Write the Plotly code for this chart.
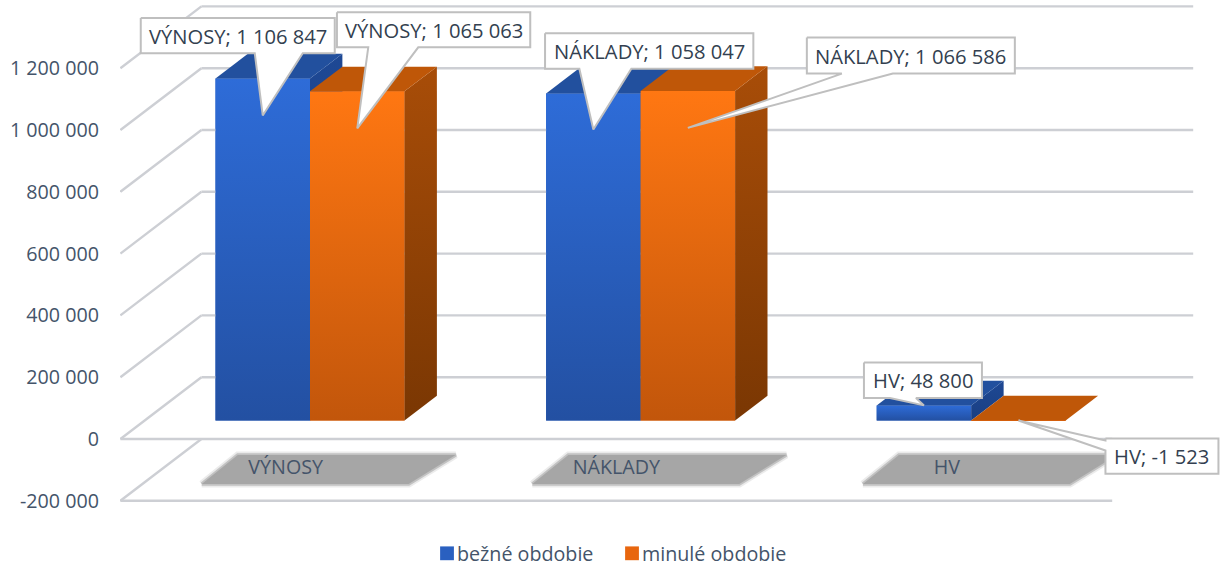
import plotly.graph_objects as go

# ---- data ----
CATEGORIES = ["VÝNOSY", "NÁKLADY", "HV"]
CURRENT = [1106847, 1058047, 48800]
PREVIOUS = [1065063, 1066586, -1523]
SERIES_NAMES = ["bežné obdobie", "minulé obdobie"]
TICK_VALUES = [-200000, 0, 200000, 400000, 600000, 800000, 1000000, 1200000]
TICK_LABELS = ["-200 000", "0", "200 000", "400 000", "600 000", "800 000", "1 000 000", "1 200 000"]

# ---- scale of the drawing ----
W, H = 1223, 570
PLOT_L, PLOT_R, PLOT_T, PLOT_B = 120, 1223, 0, 570
X0_PX, X_UNIT = 285.7, 330.6       # px of category 0 on the front plane, px per category
Y0_PX, Y_UNIT = 439.0, 0.000309    # px of value 0 on the front plane, px per value unit
X_RANGE = [(PLOT_L - X0_PX) / X_UNIT, (PLOT_R - X0_PX) / X_UNIT]
Y_RANGE = [(Y0_PX - PLOT_B) / Y_UNIT, (Y0_PX - PLOT_T) / Y_UNIT]
DEPTH_X, DEPTH_Y = 81 / X_UNIT, 200000   # data offset of the full floor depth
BAR_D0, BAR_D1 = 0.3, 0.7
BAR_W = 94.5 / X_UNIT
FLOOR_X0, FLOOR_X1 = -0.5, 2.5
GRID = "#CDCFD4"
INK = "#44546A"
LABEL_INK = "#333F50"
FONT = "Open Sans"
TEXT_SIZE = 19.7
LABEL_SIZE = 20.2

def dpx(px):
    return px / X_UNIT
def dpy(px):
    return -px / Y_UNIT

# walls and floor gridlines
gx, gy = [], []
for v in TICK_VALUES:
    gx += [FLOOR_X0, FLOOR_X0 + DEPTH_X, None]
    gy += [v, v + DEPTH_Y, None]
    if v >= 0:
        gx += [FLOOR_X0 + DEPTH_X, FLOOR_X1 + DEPTH_X, None]
        gy += [v + DEPTH_Y, v + DEPTH_Y, None]
    if v <= 0:
        gx += [FLOOR_X0, FLOOR_X1, None]
        gy += [v, v, None]
grid_trace = go.Scatter(x=gx, y=gy, mode="lines", line=dict(color=GRID, width=2.4),
                        hoverinfo="skip", showlegend=False)

# real bars (also provide the legend)
STYLE = [
    dict(front=("#2350A2", "#2E6CD8"), top="#22509E", side=("#1A3F82", "#1E4894"), flat="#2A60C0"),
    dict(front=("#C2560B", "#FF7712"), top="#BF5708", side=("#7A3703", "#A84D08"), flat="#E8660E"),
]
bars = []
faces = []
for s, (name, vals) in enumerate(zip(SERIES_NAMES, [CURRENT, PREVIOUS])):
    st = STYLE[s]
    xc = [i + BAR_D0 * DEPTH_X + (s - 0.5) * BAR_W for i in range(len(vals))]
    base = BAR_D0 * DEPTH_Y
    bars.append(go.Bar(x=xc, y=vals, base=[base] * len(vals), width=BAR_W, name=name,
                       marker=dict(color=st["flat"], line=dict(width=0)), hoverinfo="skip"))
    for x, v in zip(xc, vals):
        l, r = x - BAR_W / 2, x + BAR_W / 2
        t = base + max(v, 0)
        b = base + min(v, 0)
        dx = (BAR_D1 - BAR_D0) * DEPTH_X
        dy = (BAR_D1 - BAR_D0) * DEPTH_Y
        # front
        faces.append(go.Scatter(x=[l, r, r, l, l], y=[b, b, t, t, b], mode="lines", line=dict(width=0),
                                fill="toself", hoverinfo="skip", showlegend=False,
                                fillgradient=dict(type="vertical", colorscale=[[0, st["front"][0]], [1, st["front"][1]]])))
        # side
        faces.append(go.Scatter(x=[r, r + dx, r + dx, r, r], y=[b, b + dy, t + dy, t, b], mode="lines", line=dict(width=0),
                                fill="toself", hoverinfo="skip", showlegend=False,
                                fillgradient=dict(type="vertical", colorscale=[[0, st["side"][0]], [1, st["side"][1]]])))
        # top
        faces.append(go.Scatter(x=[l, r, r + dx, l + dx, l], y=[t, t, t + dy, t + dy, t], mode="lines", line=dict(width=0),
                                fill="toself", fillcolor=st["top"], hoverinfo="skip", showlegend=False))

# grey slabs beneath the category names
slabs = []
for i in range(len(CATEGORIES)):
    sx = [i + dpx(o) for o in (-84, -48, 170, 123, -84)]
    sy = [dpy(p) for p in (45, 16, 16, 45, 45)]
    slabs.append(go.Scatter(x=sx, y=sy, mode="lines", line=dict(color="rgba(166,166,166,0.22)", width=7),
                            hoverinfo="skip", showlegend=False))
    slabs.append(go.Scatter(x=sx, y=sy, mode="lines", line=dict(color="rgba(166,166,166,0.6)", width=3.5),
                            fill="toself", fillcolor="#A6A6A6", hoverinfo="skip", showlegend=False))

# callouts: offsets in px from the tip (left, right, top, bottom, wedge start, wedge end), tip drop in px
CALLOUTS = [
    (0, 0, 37, (-122, 72, -97.5, -62.3, -8, 40)),
    (1, 0, 37, (-20.3, 173, -116, -81, 11, 61)),
    (0, 1, 36, (-48.3, 160, -96.3, -60.7, -14, 38)),
    (1, 1, 37, (119, 327, -90.3, -54.3, 154, 205)),
    (0, 2, 0, (-60, 58, -43, -7.3, -34, -8)),
    (1, 2, 0, (87, 200, 18, 53.3, None, None)),
]
all_vals = [CURRENT, PREVIOUS]
callouts = []
annots = []
for s, c, drop, (L, R, T, B, w0, w1) in CALLOUTS:
    v = all_vals[s][c]
    tx = c + BAR_D0 * DEPTH_X + (s - 0.5) * BAR_W
    ty = BAR_D0 * DEPTH_Y + max(v, 0) + dpy(drop)
    if w0 is not None:
        pts = [(L, T), (R, T), (R, B), (w1, B), (0, 0), (w0, B), (L, B), (L, T)]
    else:
        pts = [(L, T), (R, T), (R, B), (L, B), (L, 30), (0, 0), (L, 20), (L, T)]
    callouts.append(go.Scatter(x=[tx + dpx(p[0]) for p in pts], y=[ty + dpy(p[1]) for p in pts],
                               mode="lines", line=dict(color="#BFBFBF", width=2), fill="toself",
                               fillcolor="white", hoverinfo="skip", showlegend=False))
    txt = f"{CATEGORIES[c]}; {v:,}".replace(",", " ")
    annots.append(dict(x=tx + dpx((L + R) / 2), y=ty + dpy((T + B) / 2), xref="x", yref="y", text=txt,
                       showarrow=False, font=dict(family=FONT, size=LABEL_SIZE, color=LABEL_INK)))

fig = go.Figure(bars + [grid_trace] + slabs + faces + callouts)
fig.update_layout(
    width=W, height=H, autosize=False,
    margin=dict(l=PLOT_L, r=W - PLOT_R, t=PLOT_T, b=H - PLOT_B, pad=0, autoexpand=False),
    paper_bgcolor="white", plot_bgcolor="white",
    barmode="overlay",
    font=dict(family=FONT, color=INK, size=TEXT_SIZE),
    annotations=annots,
    legend=dict(orientation="h", x=0.437, xanchor="center",
                y=(H - 534) / H, yanchor="top", entrywidth=140, entrywidthmode="pixels",
                font=dict(family=FONT, size=TEXT_SIZE, color=INK), bgcolor="rgba(0,0,0,0)", itemwidth=30),
    xaxis=dict(range=X_RANGE, showgrid=False, zeroline=False, showline=False,
               tickvals=list(range(len(CATEGORIES))), ticktext=CATEGORIES, ticks="",
               anchor="free", position=(PLOT_B - 453.5) / (PLOT_B - PLOT_T),
               tickfont=dict(family=FONT, size=TEXT_SIZE, color=INK), tickangle=0),
    yaxis=dict(range=Y_RANGE, showgrid=False, zeroline=False, showline=False,
               tickvals=TICK_VALUES, ticktext=TICK_LABELS, ticks="", ticklabelstandoff=20,
               tickfont=dict(family=FONT, size=TEXT_SIZE, color=INK)),
)
fig.write_html(
    "out.html",
    config={"displayModeBar": False},
    post_script=(
        "var st=document.createElement('style');"
        "st.textContent='body{margin:0;overflow:hidden}"
        " g.legendsymbols{transform:translate(30px,0);}"
        " g.legendpoints path{transform:scale(1.15);}';"
        "document.head.appendChild(st);"
    ),
)
